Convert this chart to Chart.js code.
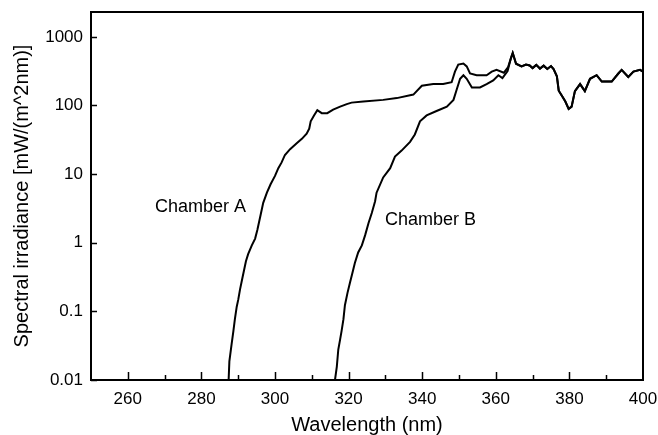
<!DOCTYPE html>
<html>
<head>
<meta charset="utf-8">
<script src="https://cdn.jsdelivr.net/npm/chart.js@4.4.1/dist/chart.umd.min.js"></script>
<style>
body { margin: 0; background: #fff; }
</style>
</head>
<body>
<canvas id="spektrum" width="658" height="435"></canvas>
<script>
// bølgelengder (nm) og irradians, lest av figuren
const wlA = [287.4, 287.6, 288.2, 288.7, 289.1, 289.6, 290.0, 290.5, 291.0, 291.6, 292.1, 292.7, 293.7, 294.6, 295.2, 296.1, 296.8, 297.8, 298.8, 300.0, 300.9, 301.8, 302.7, 304.1, 305.9, 307.3, 308.6, 309.3, 309.7, 310.6, 311.5, 312.7, 314.2, 315.8, 317.7, 319.5, 320.8, 324.0, 329.4, 333.1, 337.6, 339.9, 343.0, 345.7, 348.0, 348.9, 349.8, 351.2, 352.1, 353.0, 354.8, 357.5, 358.9, 360.2, 362.2, 363.3];
const irrA = [0.01, 0.0187, 0.033, 0.052, 0.077, 0.117, 0.147, 0.209, 0.281, 0.401, 0.538, 0.682, 0.915, 1.15, 1.53, 2.56, 3.81, 5.36, 7.11, 9.4, 12.2, 14.8, 19.0, 23.1, 28.1, 32.6, 38.9, 46, 58.8, 71.6, 85.5, 77.3, 77.3, 87, 96.2, 104.7, 110, 114, 120.6, 128, 144, 194, 205, 205, 218, 311, 394, 408, 371, 292, 276, 276, 311, 330, 300, 358];

const wlB = [316.3, 316.8, 317.2, 317.7, 318.1, 318.6, 319.0, 319.7, 320.4, 321.0, 321.7, 322.6, 323.6, 324.5, 325.4, 326.3, 327.2, 327.6, 329.4, 331.3, 332.6, 334.4, 336.7, 338.0, 339.4, 341.2, 343.9, 346.7, 348.5, 349.4, 350.3, 351.2, 352.1, 353.5, 355.7, 357.5, 359.3, 360.7, 361.8, 363.2];
const irrB = [0.01, 0.0157, 0.0278, 0.0391, 0.052, 0.077, 0.123, 0.186, 0.265, 0.356, 0.507, 0.722, 0.915, 1.29, 1.92, 2.71, 4.02, 5.36, 8.93, 12.2, 18.0, 22.0, 29.5, 37.8, 58.8, 71.6, 83, 96.2, 120.6, 172, 245, 276, 245, 183, 183, 205, 232, 276, 251, 318];

// felles del over 364 nm (kurvene ligger oppå hverandre)
const wlTail = [364.1, 364.6, 365.5, 367.0, 368.2, 369.2, 370.0, 371.0, 372.0, 373.0, 374.0, 375.0, 375.7, 376.6, 377.1, 378.0, 378.9, 379.8, 380.6, 381.5, 382.9, 384.2, 385.6, 387.4, 388.8, 391.5, 393.3, 394.2, 396.0, 397.4, 399.2, 400];
const irrTail = [486, 582, 405, 370, 395, 382, 350, 390, 345, 380, 340, 375, 338, 266, 164, 137, 114, 88.9, 96.2, 162, 205, 162, 245, 276, 223, 223, 292, 330, 260, 311, 330, 311];

const seriesNames = ["Chamber A", "Chamber B"];
const xTickLabels = [260, 280, 300, 320, 340, 360, 380, 400];
const xMinorTicks = [270, 290, 310, 330, 350, 370, 390];
const yTicks = [0.01, 0.1, 1, 10, 100, 1000];
// plassering av kurvenavnene (x = nm, y = irradians)
const nameX = [267.4, 329.9];
const nameY = [3.3, 2.15];

function lagPunkter(wl, irr) {
    let punkter = [];
    for (let i = 0; i < wl.length; i++) {
        punkter.push({ x: wl[i], y: irr[i] });
    }
    return punkter;
}

const dataA = lagPunkter(wlA.concat(wlTail), irrA.concat(irrTail));
const dataB = lagPunkter(wlB.concat(wlTail), irrB.concat(irrTail));

Chart.defaults.font.family = '"Liberation Sans", Arial, sans-serif';
Chart.defaults.color = '#000';

// ramme, innovervendte streker og kurvenavn
const rammePlugin = {
    id: 'ramme',
    afterDraw(chart) {
        const ctx = chart.ctx;
        const a = chart.chartArea;
        const xs = chart.scales.x;
        const ys = chart.scales.y;
        ctx.save();
        ctx.strokeStyle = '#000';
        ctx.lineWidth = 2;
        ctx.strokeRect(a.left, a.top, a.right - a.left, a.bottom - a.top);

        ctx.beginPath();
        ctx.lineWidth = 1.5;
        for (let v of yTicks) {
            let py = Math.round(ys.getPixelForValue(v)) + 0.5;
            ctx.moveTo(a.left, py);
            ctx.lineTo(a.left + 6, py);
        }
        for (let v of xTickLabels) {
            if (v >= 400) continue;
            let px = Math.round(xs.getPixelForValue(v)) + 0.5;
            ctx.moveTo(px, a.bottom);
            ctx.lineTo(px, a.bottom - 8);
        }
        for (let v of xMinorTicks) {
            let px = Math.round(xs.getPixelForValue(v)) + 0.5;
            ctx.moveTo(px, a.bottom);
            ctx.lineTo(px, a.bottom - 5);
        }
        ctx.stroke();

        ctx.fillStyle = '#000';
        ctx.font = '18px "Liberation Sans", Arial, sans-serif';
        ctx.textBaseline = 'middle';
        ctx.textAlign = 'left';
        for (let i = 0; i < seriesNames.length; i++) {
            ctx.fillText(seriesNames[i], xs.getPixelForValue(nameX[i]), ys.getPixelForValue(nameY[i]));
        }
        ctx.restore();
    }
};

const config = {
    type: 'line',
    data: {
        datasets: [
            { label: seriesNames[0], data: dataA, borderColor: '#000', borderWidth: 2, pointRadius: 0, tension: 0, fill: false },
            { label: seriesNames[1], data: dataB, borderColor: '#000', borderWidth: 2, pointRadius: 0, tension: 0, fill: false }
        ]
    },
    options: {
        responsive: false,
        animation: false,
        layout: { padding: { top: 12, right: 15, left: 0, bottom: 0 } },
        plugins: {
            legend: { display: false },
            tooltip: { enabled: false }
        },
        scales: {
            x: {
                type: 'linear',
                min: 250,
                max: 400,
                afterBuildTicks: s => { s.ticks = xTickLabels.map(v => ({ value: v })); },
                afterFit: s => { s.height = 55; s.paddingLeft = 0; s.paddingRight = 0; },
                grid: { display: false, drawTicks: false },
                border: { display: false },
                ticks: { padding: 9, autoSkip: false, maxRotation: 0, font: { size: 17 }, color: '#000' },
                title: { display: true, text: 'Wavelength (nm)', font: { size: 20, lineHeight: 1 }, padding: { top: 0, bottom: 0 }, color: '#000' }
            },
            y: {
                type: 'logarithmic',
                min: 0.01,
                max: 2300,
                afterBuildTicks: s => { s.ticks = yTicks.map(v => ({ value: v })); },
                afterFit: s => { s.width = 91; s.paddingTop = 0; s.paddingBottom = 0; },
                grid: { display: false, drawTicks: false },
                border: { display: false },
                ticks: { padding: 8, autoSkip: false, font: { size: 17 }, color: '#000', callback: v => String(v) },
                title: { display: true, text: 'Spectral irradiance [mW/(m^2nm)]', font: { size: 20, lineHeight: 1 }, padding: { top: 12, bottom: 0 }, color: '#000' }
            }
        }
    },
    plugins: [rammePlugin]
};

var spektrumChart = new Chart(document.querySelector("#spektrum"), config);
</script>
</body>
</html>
